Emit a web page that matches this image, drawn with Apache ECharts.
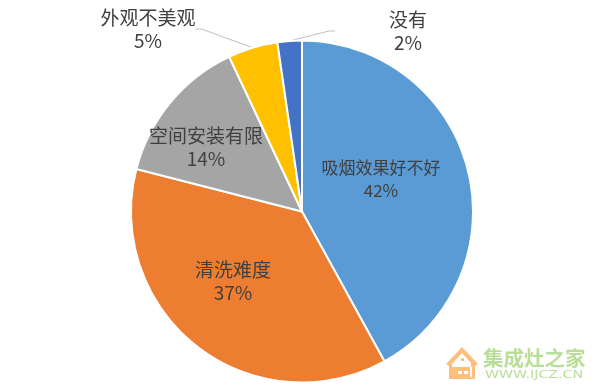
<!DOCTYPE html>
<html>
<head>
<meta charset="utf-8">
<style>
  html, body { margin: 0; padding: 0; background: #fff; }
  #chart { width: 600px; height: 391px; }
</style>
<script src="https://cdn.jsdelivr.net/npm/echarts@6/dist/echarts.min.js"></script>
</head>
<body>
<div id="chart"></div>
<script>
const categories = ['吸烟效果好不好', '清洗难度', '空间安装有限', '外观不美观', '没有'];
const values = [42, 37, 14, 4.7, 2.3];
const percentLabels = ['42%', '37%', '14%', '5%', '2%'];
const colors = ['#5b9bd5', '#ed7d31', '#a5a5a5', '#ffc000', '#4472c4'];
// label centre and left padding (keeps the leader line short of the text)
const labelSpots = [[381, 179], [233, 281], [206, 147], [148, 29], [381, 31]];
const labelPads = [0, 0, 0, 0, 54];
const labelSizes = [17, 19, 19, 19, 19];

const font = '"Noto Sans CJK SC", sans-serif';
const chart = echarts.init(document.getElementById('chart'));

chart.setOption({
    animation: false,
    backgroundColor: '#fff',
    series: [{
        type: 'pie',
        center: [302, 211.5],
        radius: [0, 171],
        startAngle: 90,
        clockwise: true,
        silent: true,
        data: categories.map((name, i) => ({
            name,
            value: values[i],
            itemStyle: { color: colors[i] },
            label: {
                position: i > 2 ? 'outside' : 'inside',
                fontSize: labelSizes[i],
                padding: [0, 0, 0, labelPads[i]]
            },
            labelLine: { show: i > 2 }
        })),
        itemStyle: { borderColor: '#fff', borderWidth: 2 },
        label: {
            formatter: p => p.name + '\n' + percentLabels[p.dataIndex],
            fontFamily: font,
            lineHeight: 23,
            color: '#404040',
            align: 'center'
        },
        labelLine: {
            length: 6,
            length2: 6,
            smooth: false,
            lineStyle: { color: '#bfbfbf', width: 1 }
        },
        labelLayout: params => ({
            x: labelSpots[params.dataIndex][0],
            y: labelSpots[params.dataIndex][1],
            align: 'center',
            verticalAlign: 'middle'
        })
    }],
    // watermark in the lower right corner
    graphic: [
        { type: 'polygon', shape: { points: [[446, 364], [462, 347], [478, 364], [475, 366], [475, 379], [449, 379], [449, 366]] }, style: { fill: '#fdc07c' } },
        { type: 'polygon', shape: { points: [[452, 364], [462, 353], [471, 363], [471, 367], [452, 367]] }, style: { fill: '#fff' } },
        { type: 'rect', shape: { x: 461, y: 358, width: 3, height: 3 }, style: { fill: '#fdc07c' } },
        { type: 'rect', shape: { x: 458, y: 371, width: 4, height: 3 }, style: { fill: '#fff' } },
        { type: 'rect', shape: { x: 464, y: 371, width: 4, height: 3 }, style: { fill: '#fff' } },
        { type: 'rect', shape: { x: 470, y: 367, width: 2, height: 10 }, style: { fill: '#fff' } },
        { type: 'text', style: { x: 483, y: 348, text: '集成灶之家', fill: '#b9de97', font: 'bold 20.5px ' + font } },
        { type: 'text', x: 485, y: 370, scaleX: 1.42, style: { x: 0, y: 0, text: 'WWW.IJCZ.CN', fill: '#b9de97', font: '10px "DejaVu Sans"' } }
    ]
});
</script>
</body>
</html>
